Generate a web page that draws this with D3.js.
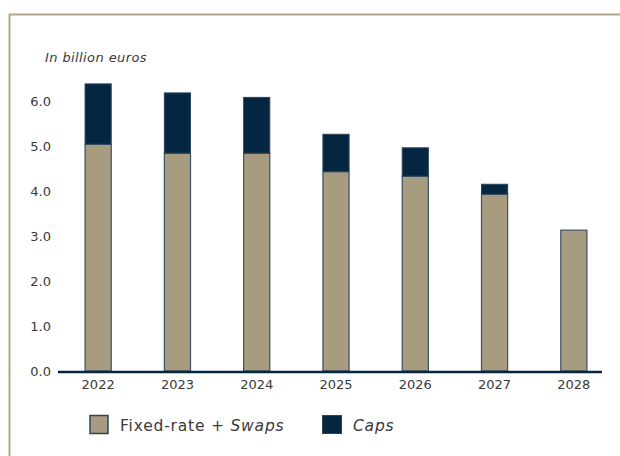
<!DOCTYPE html>
<html>
<head>
<meta charset="utf-8">
<script src="https://cdn.jsdelivr.net/npm/d3@7"></script>
<style>
  body { margin: 0; background: #fff; }
  text { font-family: "DejaVu Sans", sans-serif; fill: #3a3a3a; }
</style>
</head>
<body>
<div id="chart"></div>
<script>
const years = ['2022', '2023', '2024', '2025', '2026', '2027', '2028']
const fixedSwaps = [5.04, 4.84, 4.84, 4.43, 4.33, 3.93, 3.13]
const caps = [1.34, 1.34, 1.24, 0.83, 0.63, 0.22, 0]
const yTicks = [0, 1, 2, 3, 4, 5, 6]
const seriesNames = ['Fixed-rate + ', 'Caps']

const width = 620
const height = 456

const svg = d3.select('#chart').append('svg')
    .attr('width', width)
    .attr('height', height)

// frame
svg.append('path')
    .attr('d', `M9.5,${height} V14.5 H${width}`)
    .attr('fill', 'none')
    .attr('stroke', '#b3a789')
    .attr('stroke-width', 2)

const x = d3.scaleBand()
    .domain(years)
    .range([58.5, 613.5])
    .paddingInner(0.67)
    .paddingOuter(0.335)

const y = d3.scaleLinear()
    .domain([0, 6])
    .range([371, 101])

svg.append('text')
    .attr('x', 45)
    .attr('y', 62)
    .style('font-style', 'italic')
    .style('font-size', '13px')
    .style('letter-spacing', '0.4px')
    .text('In billion euros')

// y labels (no axis line)
svg.append('g')
    .selectAll('text')
    .data(yTicks)
    .join('text')
    .attr('x', 51)
    .attr('y', d => y(d))
    .attr('dy', '0.35em')
    .attr('text-anchor', 'end')
    .style('font-size', '13px')
    .text(d => d.toFixed(1))

const rows = years.map((yr, i) => ({year: yr, fixed: fixedSwaps[i], caps: caps[i]}))

const bars = svg.append('g').selectAll('g').data(rows).join('g')

bars.append('rect')
    .attr('x', d => x(d.year))
    .attr('y', d => y(d.fixed))
    .attr('width', x.bandwidth())
    .attr('height', d => y(0) - y(d.fixed))
    .attr('fill', '#a89c80')
    .attr('stroke', '#3c5163')
    .attr('stroke-width', 1.2)

bars.filter(d => d.caps > 0).append('rect')
    .attr('x', d => x(d.year))
    .attr('y', d => y(d.fixed + d.caps))
    .attr('width', x.bandwidth())
    .attr('height', d => y(d.fixed) - y(d.fixed + d.caps))
    .attr('fill', '#052641')
    .attr('stroke', '#2d4559')
    .attr('stroke-width', 1)

// x axis
const xAxis = svg.append('g')
    .attr('transform', `translate(0,${y(0) + 1})`)
    .call(d3.axisBottom(x).tickSize(0).tickPadding(8))
xAxis.select('.domain').remove()
xAxis.selectAll('text')
    .style('font-family', '"DejaVu Sans", sans-serif')
    .style('font-size', '13px')
    .attr('fill', '#3a3a3a')

svg.append('line')
    .attr('x1', 58)
    .attr('x2', 602)
    .attr('y1', y(0) + 1)
    .attr('y2', y(0) + 1)
    .attr('stroke', '#052641')
    .attr('stroke-width', 2.5)

// legend
const legend = svg.append('g')
legend.append('rect')
    .attr('x', 90).attr('y', 415.5)
    .attr('width', 18).attr('height', 18)
    .attr('fill', '#a89c80')
    .attr('stroke', '#2d4559')
    .attr('stroke-width', 1.5)
const t1 = legend.append('text')
    .attr('x', 120).attr('y', 431)
    .style('font-size', '15.5px')
    .style('letter-spacing', '0.8px')
t1.append('tspan').text(seriesNames[0])
t1.append('tspan').style('font-style', 'italic').text('Swaps')

legend.append('rect')
    .attr('x', 322.5).attr('y', 415.5)
    .attr('width', 19).attr('height', 18)
    .attr('fill', '#052641')
    .attr('stroke', '#2d4559')
    .attr('stroke-width', 1)
legend.append('text')
    .attr('x', 353).attr('y', 431)
    .style('font-size', '15.5px')
    .style('letter-spacing', '0.8px')
    .style('font-style', 'italic')
    .text(seriesNames[1])
</script>
</body>
</html>
